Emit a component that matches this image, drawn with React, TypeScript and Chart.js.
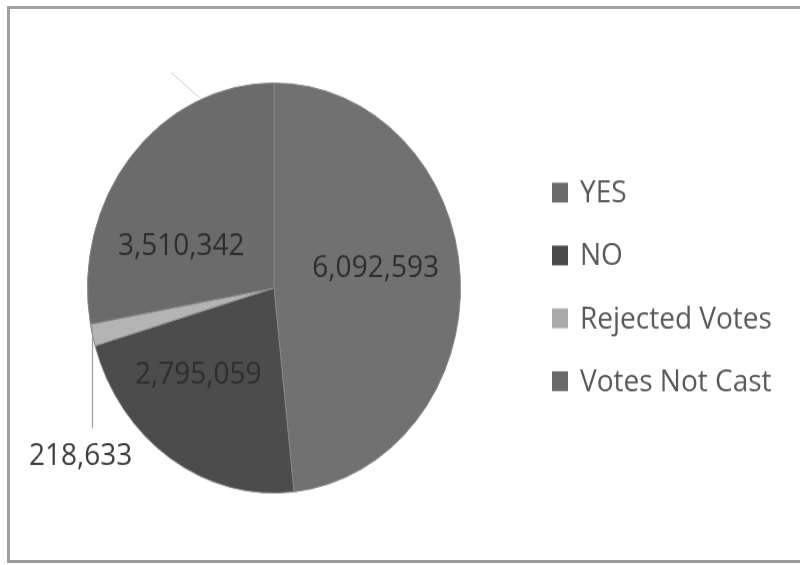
import React, { useEffect, useRef } from "react";
import { Chart, registerables } from "chart.js";

Chart.register(...registerables);

// ---- data ----
const categories = ["YES", "NO", "Rejected Votes", "Votes Not Cast"];
const votes = [6092593, 2795059, 218633, 3510342];
const sliceColors = ["#717171", "#4c4c4c", "#b4b4b4", "#6b6b6b"];
const legendColors = ["#6b6b6b", "#4b4b4b", "#aaaaaa", "#696969"];

// ---- layout (display is stretched vertically, like the reference) ----
const W = 800;
const H = 565;
const IH = 514;
const SY = H / IH;

const fmt = (v: number) => v.toLocaleString("en-US");

// label anchors relative to pie centre, in units of the pie radius
const labelRel: [number, number][] = [
  [0.545, -0.051],
  [-0.406, 0.464],
  [-1.037, 0.863],
  [-0.497, -0.163],
];

const pieDecor = {
  id: "pieDecor",
  afterDatasetsDraw(chart: any) {
    const ctx: CanvasRenderingContext2D = chart.ctx;
    const meta = chart.getDatasetMeta(0);
    const arcs = meta.data as any[];
    if (!arcs.length) return;
    const p0 = arcs[0].getProps(["x", "y", "outerRadius"], true);
    const cx = p0.x, cy = p0.y, r = p0.outerRadius;
    const values = chart.data.datasets[0].data as number[];

    ctx.save();
    // faint leader stroke at top (artifact in original)
    ctx.strokeStyle = "#cfcfcf";
    ctx.lineWidth = 1;
    ctx.beginPath();
    ctx.moveTo(cx - 0.55 * r, cy - 1.05 * r);
    ctx.lineTo(cx - 0.395 * r, cy - 0.925 * r);
    ctx.stroke();

    // leader line for the small slice
    const a = arcs[2].getProps(["startAngle", "endAngle"], true);
    const mid = (a.startAngle + a.endAngle) / 2;
    const lx = cx + Math.cos(mid) * r;
    const ly = cy + Math.sin(mid) * r;
    ctx.strokeStyle = "#9a9a9a";
    ctx.lineWidth = 1.2;
    ctx.beginPath();
    ctx.moveTo(lx, ly - 8);
    ctx.lineTo(lx, cy + 0.683 * r);
    ctx.stroke();

    // value labels
    ctx.font = '28px "Open Sans"';
    ctx.textAlign = "center";
    ctx.textBaseline = "alphabetic";
    values.forEach((v, i) => {
      const [rx, ry] = labelRel[i];
      ctx.fillStyle = i === 2 ? "#3c3c3c" : "#2e2e2e";
      ctx.fillText(fmt(v), cx + rx * r, cy + ry * r);
    });

    // legend
    const labels = chart.data.labels as string[];
    ctx.textAlign = "left";
    labels.forEach((lab, i) => {
      const base = 184.2 + i * 57.2;
      ctx.fillStyle = legendColors[i];
      ctx.fillRect(552, base - 18, 16, 18);
      ctx.fillStyle = "#595959";
      ctx.fillText(lab, 580, base);
    });
    ctx.restore();
  },
};

export default function App() {
  const ref = useRef<HTMLCanvasElement | null>(null);

  useEffect(() => {
    if (!ref.current) return;
    const chart = new Chart(ref.current, {
      type: "pie",
      data: {
        labels: categories,
        datasets: [
          {
            data: votes,
            backgroundColor: sliceColors,
            borderColor: "#878787",
            borderWidth: 1,
          },
        ],
      },
      options: {
        animation: false,
        responsive: false,
        events: [],
        layout: { padding: { left: 87, right: 339, top: 75, bottom: 65 } },
        plugins: {
          legend: { display: false },
          tooltip: { enabled: false },
          title: { display: false },
        },
      },
      plugins: [pieDecor],
    });
    return () => chart.destroy();
  }, []);

  return (
    <div
      style={{
        position: "fixed",
        left: 0,
        top: 0,
        width: W,
        height: H,
        background: "#ffffff",
        overflow: "hidden",
      }}
    >
      <div
        style={{
          position: "absolute",
          left: 0,
          top: 0,
          width: W,
          height: IH,
          transform: `scaleY(${SY})`,
          transformOrigin: "0 0",
        }}
      >
        <canvas
          ref={ref}
          width={W}
          height={IH}
          style={{ width: W + "px", height: IH + "px", display: "block" }}
        />
      </div>
      <div style={{ position: "absolute", left: 7, top: 6, width: 793, height: 3, background: "#a3a3a3" }} />
      <div style={{ position: "absolute", left: 7, top: 6, width: 3, height: 557, background: "#a0a0a0" }} />
      <div style={{ position: "absolute", left: 7, top: 560, width: 793, height: 3, background: "#9c9c9c" }} />
    </div>
  );
}
